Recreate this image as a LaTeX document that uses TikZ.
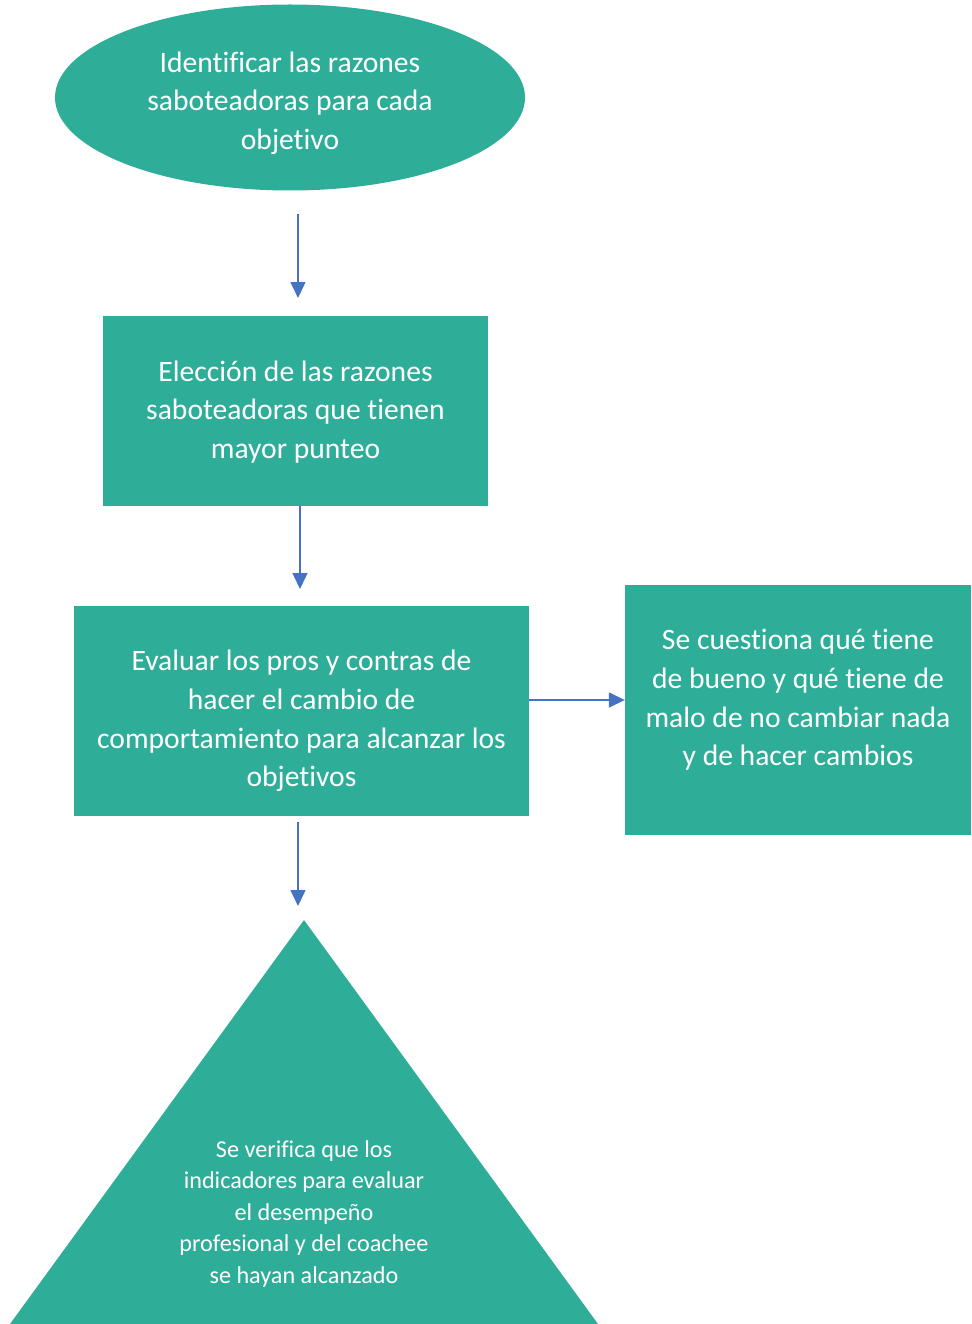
\documentclass[tikz,border=0pt]{standalone}
\usepackage{fontspec}
\setmainfont[Ligatures=NoCommon]{Carlito}
\usetikzlibrary{arrows.meta,shapes.geometric}
\definecolor{teal}{HTML}{2EAD99}
\definecolor{arrowblue}{HTML}{4472C4}
\tikzset{
  shapebox/.style={fill=teal, draw=none, inner sep=0pt},
  lbl/.style={text=white, align=center, font=\fontsize{29.6}{38.7}\selectfont, inner sep=0pt},
  lblsmall/.style={text=white, align=center, font=\fontsize{24.2}{31.5}\selectfont, inner sep=0pt},
  conn/.style={draw=arrowblue, line width=1.5pt, -{Triangle[length=16pt,width=15pt]}},
}
\begin{document}
\begin{tikzpicture}[x=1pt,y=-1pt]
\useasboundingbox (0,0) rectangle (971,1324);
% shapes
\node[shapebox, ellipse, minimum width=470pt, minimum height=186pt] (ell) at (290,97.5) {};
\node[shapebox, rectangle, minimum width=385pt, minimum height=190pt] (r1) at (295.5,411) {};
\node[shapebox, rectangle, minimum width=455pt, minimum height=210pt] (r2) at (301.5,711) {};
\node[shapebox, rectangle, minimum width=346pt, minimum height=250pt] (r3) at (798,710) {};
\fill[teal] (304,920) -- (598,1324) -- (10,1324) -- cycle;
\coordinate (tri) at (304,920);
% labels
\node[lbl] (t0) at (290,103) {Identificar las razones\\saboteadoras para cada\\objetivo};
\node[lbl] (t1) at (295.5,412) {Elección de las razones\\saboteadoras que tienen\\mayor punteo};
\node[lbl] (t2) at (301.5,721) {Evaluar los pros y contras de\\hacer el cambio de\\comportamiento para alcanzar los\\objetivos};
\node[lbl] (t3) at (798,700) {Se cuestiona qué tiene\\de bueno y qué tiene de\\malo de no cambiar nada\\y de hacer cambios};
\node[lblsmall] (t4) at (304,1214) {Se verifica que los\\indicadores para evaluar\\el desempeño\\profesional y del coachee\\se hayan alcanzado};
% connectors
\coordinate (a1s) at (298,214);
\coordinate (a1e) at (298,298);
\draw[conn] (a1s) -- (a1e);
\draw[conn] (r1.south -| 300,0) -- (300,589);
\draw[conn] (r2.east |- 0,700) -- (r3.west |- 0,700);
\coordinate (a4s) at (298,822);
\coordinate (a4e) at (298,906);
\draw[conn] (a4s) -- (a4e);
\end{tikzpicture}
\end{document}
